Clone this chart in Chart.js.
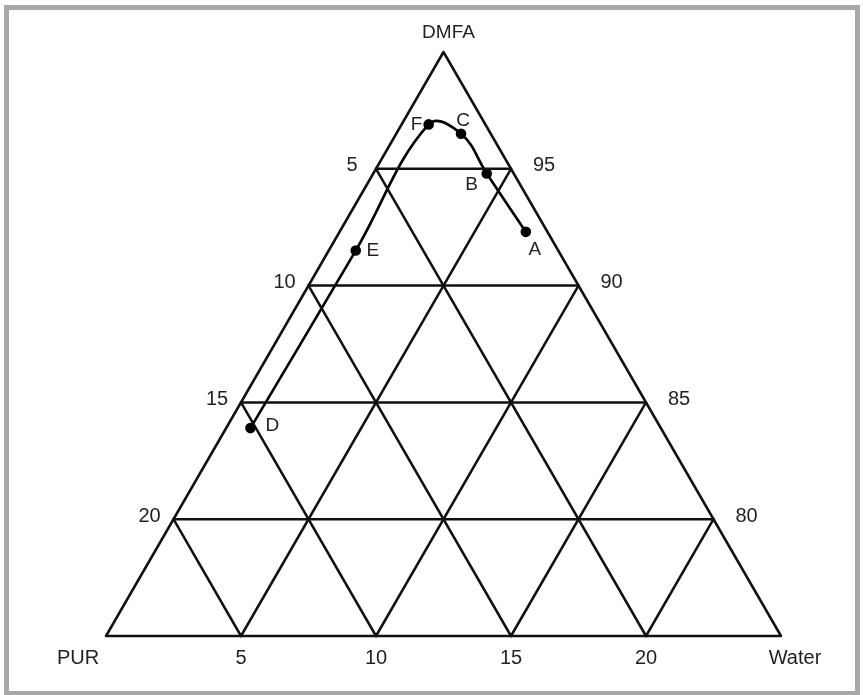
<!DOCTYPE html>
<html><head><meta charset="utf-8">
<style>html,body{margin:0;padding:0;background:#fff;overflow:hidden;} canvas{display:block;}</style>
<script src="https://cdn.jsdelivr.net/npm/chart.js@4.4.1/dist/chart.umd.min.js"></script>
</head><body><canvas id="c" width="863" height="695"></canvas>
<script>
// ---- data (ternary compositions, %) ----
const pointLabels = ['D', 'E', 'F', 'C', 'B', 'A'];
const purValues   = [15.2, 7.5, 2.1, 1.1, 1.0, 0.8];
const dmfaValues  = [83.9, 91.5, 96.9, 96.5, 94.8, 92.3];
const waterValues = [0.9, 1.0, 1.0, 2.4, 4.2, 6.9];
// ---- axis ticks ----
const purTicks   = [5, 10, 15, 20];   // left edge
const dmfaTicks  = [95, 90, 85, 80];  // right edge / horizontal lines
const waterTicks = [5, 10, 15, 20];   // bottom edge
const cornerNames = ['DMFA', 'PUR', 'Water'];
const dmfaMin = 75;

// ternary -> cartesian in data units (x: water + half DMFA excess, y: DMFA)
function tern(pur, dmfa, water) {
  return { x: water + (dmfa - dmfaMin) / 2, y: dmfa };
}
const span = 100 - dmfaMin;

const gridColor = '#111';
const gridWidth = 2.5;
function lineDs(pts) {
  return { data: pts, showLine: true, pointRadius: 0, borderColor: gridColor,
           borderWidth: gridWidth, tension: 0, clip: false, borderCapStyle: 'round', borderJoinStyle: 'round' };
}
const datasets = [];
// outline
datasets.push(lineDs([tern(span, dmfaMin, 0), tern(0, 100, 0), tern(0, dmfaMin, span), tern(span, dmfaMin, 0)]));
// constant DMFA
dmfaTicks.forEach(d => datasets.push(lineDs([tern(100 - d, d, 0), tern(0, d, 100 - d)])));
// constant PUR
purTicks.forEach(p => datasets.push(lineDs([tern(p, 100 - p, 0), tern(p, dmfaMin, span - p)])));
// constant Water
waterTicks.forEach(w => datasets.push(lineDs([tern(span - w, dmfaMin, w), tern(0, 100 - w, w)])));
// composition path
const pathPts = pointLabels.map((l, i) => tern(purValues[i], dmfaValues[i], waterValues[i]));
datasets.push({ data: pathPts, showLine: true, tension: 0.4, borderColor: '#000', borderWidth: 2.6,
  pointRadius: 4, pointBackgroundColor: '#000', pointBorderColor: '#000', clip: false });

const labelOffsets = { D: [22, -2], E: [17, 0], F: [-12, 0], C: [2, -13], B: [-15, 11], A: [9, 18] };
const FONT = '"Liberation Sans", Arial, sans-serif';

const textPlugin = {
  id: 'ternText',
  beforeDraw(chart) {
    const ctx = chart.ctx;
    ctx.save();
    ctx.fillStyle = '#fff';
    ctx.fillRect(0, 0, chart.width, chart.height);
    ctx.strokeStyle = '#a7a8aa';
    ctx.lineWidth = 5;
    ctx.strokeRect(6.5, 7.5, 851, 686);
    ctx.restore();
  },
  afterDraw(chart) {
    const ctx = chart.ctx, xs = chart.scales.x, ys = chart.scales.y;
    const P = (pt) => [xs.getPixelForValue(pt.x), ys.getPixelForValue(pt.y)];
    ctx.save();
    ctx.fillStyle = '#231f20';
    ctx.textAlign = 'center';
    ctx.textBaseline = 'middle';
    ctx.font = '19px ' + FONT;
    // point labels
    pointLabels.forEach((l, i) => {
      const [x, y] = P(pathPts[i]);
      const o = labelOffsets[l];
      ctx.fillText(l, x + o[0], y + o[1]);
    });
    // corner names
    ctx.font = '19px ' + FONT;
    let [x, y] = P(tern(0, 100, 0));
    ctx.fillText(cornerNames[0], x + 5, y - 19);
    ctx.font = '20px ' + FONT;
    [x, y] = P(tern(span, dmfaMin, 0));
    ctx.fillText(cornerNames[1], x - 28, y + 22);
    [x, y] = P(tern(0, dmfaMin, span));
    ctx.fillText(cornerNames[2], x + 14, y + 22);
    // bottom ticks (water)
    waterTicks.forEach(w => { const [a, b] = P(tern(span - w, dmfaMin, w)); ctx.fillText(String(w), a, b + 22); });
    // left ticks (PUR)
    purTicks.forEach(p => { const [a, b] = P(tern(p, 100 - p, 0)); ctx.fillText(String(p), a - 24, b - 3); });
    // right ticks (DMFA)
    dmfaTicks.forEach(d => { const [a, b] = P(tern(0, d, 100 - d)); ctx.fillText(String(d), a + 33, b - 3); });
    ctx.restore();
  }
};

new Chart(document.getElementById('c'), {
  type: 'scatter',
  data: { datasets },
  options: {
    responsive: false,
    animation: false,
    layout: { padding: { left: 106, right: 82, top: 52, bottom: 59 } },
    plugins: { legend: { display: false }, tooltip: { enabled: false } },
    scales: {
      x: { type: 'linear', min: 0, max: span, display: false },
      y: { type: 'linear', min: dmfaMin, max: 100, display: false }
    }
  },
  plugins: [textPlugin]
});
</script>
</body></html>
